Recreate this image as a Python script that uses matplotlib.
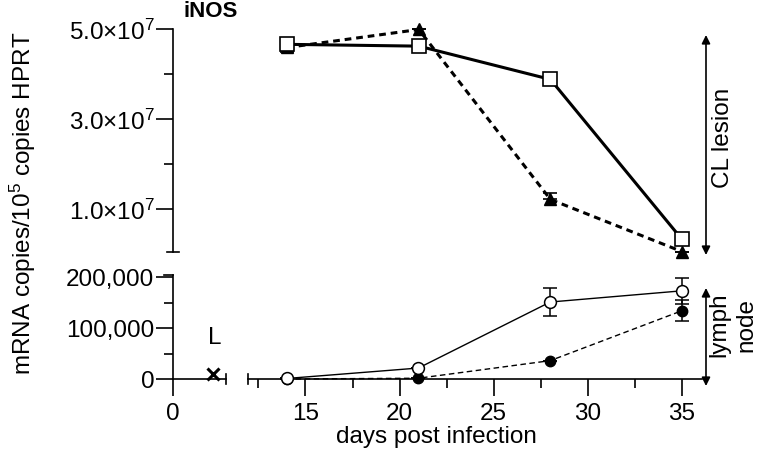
import matplotlib
matplotlib.use("Agg")
import matplotlib.pyplot as plt
from matplotlib.patches import FancyArrowPatch
from matplotlib.ticker import FixedLocator, FuncFormatter

plt.rcParams['font.family'] = ['Liberation Sans', 'DejaVu Sans']
plt.rcParams['mathtext.fontset'] = 'custom'
plt.rcParams['mathtext.rm'] = 'Liberation Sans'

# data
days = [14, 21, 28, 35]
cl_open = [4.67e7, 4.63e7, 3.89e7, 0.33e7]
cl_filled = [4.60e7, 5.00e7, 1.22e7, 0.06e7]
cl_filled_err = [0.10e7, 0.0, 0.15e7, 0.0]
ln_open = [1000, 21500, 151000, 173000]
ln_open_err = [0, 0, 28000, 26000]
ln_filled = [0, 1500, 36000, 134000]
ln_filled_err = [0, 0, 0, 21000]
l_day = [2.1]
l_value = [10000]

FS = 17.5
W, H = 758, 451
fig = plt.figure(figsize=(W / 100, H / 100), dpi=100)


def px_axes(x0, x1, ytop, ybot):
    return fig.add_axes([x0 / W, 1 - ybot / H, (x1 - x0) / W, (ybot - ytop) / H])


def style(ax):
    for s in ax.spines.values():
        s.set_visible(False)
        s.set_linewidth(1.2)
    ax.tick_params(which='both', width=1.2, labelsize=FS, direction='out')
    ax.tick_params(which='major', length=12)
    ax.tick_params(which='minor', length=6.5)
    ax.patch.set_visible(False)


# upper panel: CL lesion
ax1 = px_axes(173, 702, 29.5, 251.7)
style(ax1)
ax1.spines['left'].set_visible(True)
ax1.set_xlim(7.93, 36.06)
ax1.set_ylim(0.058e7, 5e7)
ax1.set_xticks([])
ax1.yaxis.set_major_locator(FixedLocator([1e7, 3e7, 5e7]))
ax1.yaxis.set_minor_locator(FixedLocator([2e7, 4e7]))
ax1.yaxis.set_major_formatter(FuncFormatter(
    lambda v, p: r'%.1f×10$\mathregular{^{%d}}$' % (v / 1e7, 7)))
ax1.tick_params(axis='y', pad=1.5)
ax1.plot([-0.012, 0.012], [0, 0], color='k', lw=1.2, transform=ax1.transAxes, clip_on=False)

ax1.errorbar(days, cl_filled, yerr=[[0] * 4, cl_filled_err], color='k', ls=(0, (2.2, 1.6)),
             lw=2.2, marker='^', ms=9, mfc='k', capsize=5, capthick=1.2, elinewidth=1.2,
             clip_on=False, zorder=3)
ax1.errorbar(days[:1], cl_filled[:1], yerr=[cl_filled_err[:1], [0]], color='k', ls='none',
             capsize=5, capthick=1.2, elinewidth=1.2, zorder=2)
ax1.plot(days, cl_open, color='k', lw=2.2, marker='s', ms=10, mfc='white', mec='k',
         mew=1.2, clip_on=False, zorder=4)

# lower panel, left segment (L)
y0, y1 = 274.5, 379
ax2 = px_axes(173, 226, y0, y1)
style(ax2)
ax2.spines['left'].set_visible(True)
ax2.spines['bottom'].set_visible(True)
ax2.set_xlim(0, 2.8)
ax2.set_ylim(0, 205000)
ax2.set_xticks([0])
ax2.yaxis.set_major_locator(FixedLocator([0, 100000, 200000]))
ax2.yaxis.set_minor_locator(FixedLocator([50000, 150000]))
ax2.yaxis.set_major_formatter(FuncFormatter(lambda v, p: f'{int(v):,}'))
ax2.tick_params(axis='y', pad=1.5)
ax2.tick_params(axis='x', pad=5)
ax2.plot([-0.17, 0], [1, 1], color='k', lw=1.2, transform=ax2.transAxes, clip_on=False)
ax2.plot([1, 1], [-0.05, 0.05], color='k', lw=1.2, transform=ax2.transAxes, clip_on=False)
ax2.plot(l_day, l_value, marker='x', color='k', ms=8, mew=2.2, ls='none', clip_on=False)
ax2.text(l_day[0] + 0.1, 80000, 'L', fontsize=FS, ha='center', va='center')

# lower panel, right segment
ax3 = px_axes(248, 702, y0, y1)
style(ax3)
ax3.spines['bottom'].set_visible(True)
ax3.set_xlim(11.95, 36.06)
ax3.set_ylim(0, 205000)
ax3.set_yticks([])
ax3.xaxis.set_major_locator(FixedLocator([15, 20, 25, 30, 35]))
ax3.xaxis.set_minor_locator(FixedLocator([12.5, 17.5, 22.5, 27.5, 32.5]))
ax3.tick_params(axis='x', pad=5)
ax3.plot([0, 0], [-0.05, 0.05], color='k', lw=1.2, transform=ax3.transAxes, clip_on=False)

ax3.errorbar(days, ln_filled, yerr=ln_filled_err, color='k', ls=(0, (4, 2.5)), lw=1.0,
             marker='o', ms=7.5, mfc='k', capsize=5, capthick=1.1, elinewidth=1.1,
             clip_on=False, zorder=3)
ax3.errorbar(days, ln_open, yerr=ln_open_err, color='k', lw=1.0, marker='o', ms=8.5,
             mfc='white', mec='k', mew=1.1, capsize=5, capthick=1.1, elinewidth=1.1,
             clip_on=False, zorder=4)

# labels and arrows
fig.text(23 / W, 1 - 203 / H, r'mRNA copies/10$\mathregular{^5}$ copies HPRT', fontsize=FS,
         rotation=90, ha='center', va='center')
fig.text(211 / W, 1 - 1 / H, 'iNOS', fontsize=16, fontweight='bold', ha='center', va='top')
fig.text(436 / W, 1 - 437 / H, 'days post infection', fontsize=FS, ha='center', va='center')
fig.text(723 / W, 1 - 138 / H, 'CL lesion', fontsize=FS, rotation=90, ha='center', va='center')
fig.text(733 / W, 1 - 325 / H, 'lymph\nnode', fontsize=FS, rotation=90, ha='center',
         va='center', multialignment='center', linespacing=1.25)

for ya, yb in [(35, 255), (288, 386)]:
    arr = FancyArrowPatch((706 / W, 1 - ya / H), (706 / W, 1 - yb / H),
                          transform=fig.transFigure, arrowstyle='<|-|>,head_length=5,head_width=2.5',
                          color='k', lw=1.2, shrinkA=0, shrinkB=0)
    fig.add_artist(arr)

fig.savefig('out.png', dpi=100)
